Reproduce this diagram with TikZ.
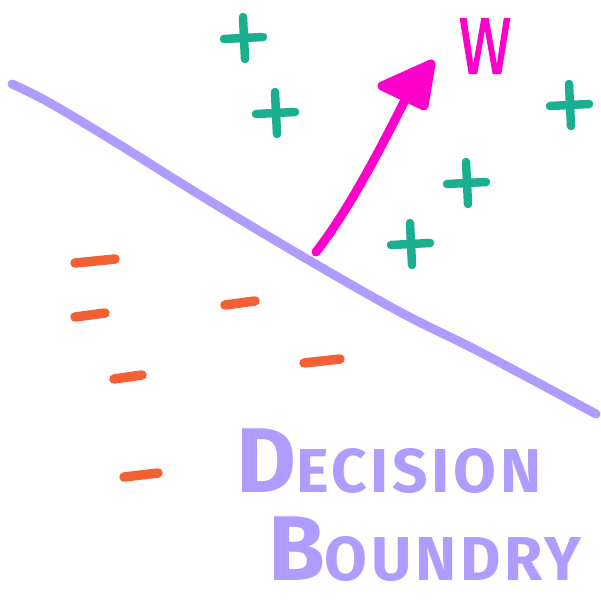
\documentclass[tikz,border=0pt]{standalone}
\usepackage{fontspec}
\setmainfont{Fira Sans}
\usetikzlibrary{positioning}
\definecolor{lavender}{HTML}{B09CFF}
\definecolor{teal}{HTML}{1AAF8E}
\definecolor{coral}{HTML}{F26034}
\definecolor{magenta}{HTML}{FF00CC}

\begin{document}
\begin{tikzpicture}[
      x=1pt, y=-1pt, % pixel coordinates, y downwards
      pen/.style={line width=8.5pt, line cap=round, line join=round},
      pluspen/.style={pen, draw=teal},
      minuspen/.style={pen, line width=9.5pt, draw=coral},
      boundary/.style={pen, line width=9pt, draw=lavender},
      weight/.style={pen, line width=9pt, draw=magenta},
      label/.style={inner sep=0pt, text=lavender, font=\bfseries\addfontfeatures{LetterSpace=6}}
    ]
  \useasboundingbox (0,0) rectangle (600,605);
  % decision boundary
  \draw[boundary] plot[smooth, tension=0.6] coordinates
     {(12,84) (50,103) (120,145) (200,195) (300,255) (400,312) (480,352) (596,414)};
  % positive samples
  \foreach \px/\py in {244/38, 276/113, 570/105, 467/183, 411/244}
    \draw[pluspen] (\px-20,\py+1) -- (\px+19,\py-1)
                   (\px-1,\py-21) -- (\px+1,\py+21);
  % negative samples
  \foreach \mx/\my/\mw in {95/261/20, 90/315/15, 240/303/15, 128/377/14, 322/361/18, 141/475/17}
    \draw[minuspen] (\mx-\mw,\my+2) -- (\mx+\mw,\my-2);
  % weight vector
  \coordinate (wbase) at (316,252);
  \coordinate (wtip) at (406,98);
  \draw[weight] (wbase) .. controls (345,215) and (375,160) .. (wtip);
  \filldraw[weight, fill=magenta] (382,86) -- (431,64) -- (424,106) -- cycle;
  \node[inner sep=0pt, text=magenta, xscale=0.8, font=\addfontfeatures{FakeBold=1.5}\fontsize{80}{80}\selectfont] (w) at (485,46) {W};
  % label
  \node[label, anchor=base west] (decision) at (236,492)
    {\fontsize{92}{92}\selectfont D\fontsize{62}{62}\selectfont ECISION};
  \node[label, anchor=base west] (boundry) at (268,580)
    {\fontsize{92}{92}\selectfont B\fontsize{62}{62}\selectfont OUNDRY};
\end{tikzpicture}
\end{document}
